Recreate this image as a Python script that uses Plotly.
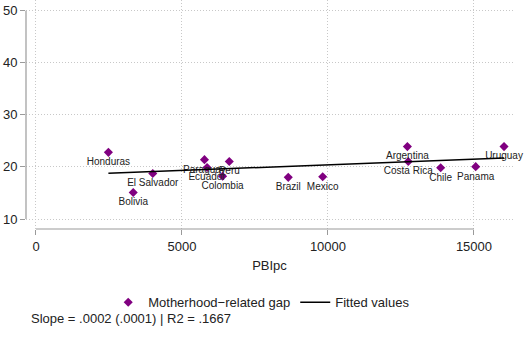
import numpy as np
import plotly.graph_objects as go

# GDP per capita and motherhood-related gap by country
countries = ["Honduras", "Bolivia", "El Salvador", "Paraguay", "Ecuador", "Colombia",
             "Peru", "Brazil", "Mexico", "Argentina", "Costa Rica", "Chile",
             "Panama", "Uruguay"]
pbipc = [2480, 3330, 4000, 5770, 5860, 6390, 6620, 8640, 9820, 12720, 12750,
         13860, 15060, 16030]
gap = [22.8, 15.1, 18.75, 21.4, 19.9, 18.2, 21.05, 18.0, 18.1, 23.9, 21.05,
       19.85, 20.05, 23.9]

x_ticks = [0, 5000, 10000, 15000]
x_tick_labels = ["0", "5000", "10000", "15000"]
y_ticks = [10, 20, 30, 40, 50]
note = "Slope = .0002 (.0001) | R2 = .1667"

# Linear fit across the observed range
slope, intercept = np.polyfit(pbipc, gap, 1)
fit_x = [min(pbipc), max(pbipc)]
fit_y = [intercept + slope * v for v in fit_x]

FONT = "Liberation Sans, Arial, Helvetica, sans-serif"
AXIS_COL = "#9a9a9a"
GRID_COL = "#c8c8c8"

fig = go.Figure()
fig.add_trace(go.Scatter(
    x=pbipc, y=gap, mode="markers+text", text=countries,
    textposition="bottom center", cliponaxis=False,
    textfont=dict(size=10, color="#222222", family=FONT),
    marker=dict(symbol="diamond", size=7, color="#800080"),
    name="Motherhood−related gap",
))
fig.add_trace(go.Scatter(
    x=fit_x, y=fit_y, mode="lines",
    line=dict(color="black", width=1.5),
    name="Fitted values",
))

# Axis lines spanning only the labelled tick range
fig.add_shape(type="line", xref="x", yref="paper", x0=x_ticks[0], x1=x_ticks[-1],
              y0=0, y1=0, line=dict(color=AXIS_COL, width=1.2))
fig.add_shape(type="line", xref="paper", yref="y", x0=0, x1=0,
              y0=y_ticks[0], y1=y_ticks[-1], line=dict(color=AXIS_COL, width=1.2))

fig.add_annotation(text=note, xref="paper", yref="paper", x=0.006, y=-0.392,
                   xanchor="left", yanchor="middle", showarrow=False,
                   font=dict(size=13, color="#222222", family=FONT))

fig.update_layout(
    width=528, height=340,
    margin=dict(l=26, r=15, t=0, b=111),
    paper_bgcolor="white", plot_bgcolor="white",
    font=dict(family=FONT, size=13, color="#222222"),
    showlegend=True,
    legend=dict(orientation="h", x=0.484, xanchor="center", y=-0.32, yanchor="middle",
                font=dict(size=13), itemwidth=30, bgcolor="rgba(0,0,0,0)"),
    xaxis=dict(range=[-342, 16337], tickvals=x_ticks, ticktext=x_tick_labels,
               ticks="outside", ticklen=5,
               tickcolor=AXIS_COL, showline=False, zeroline=False,
               showgrid=True, gridcolor=GRID_COL, griddash="1px,2px", gridwidth=1,
               title=dict(text="PBIpc", standoff=8, font=dict(size=13))),
    yaxis=dict(range=[8.08, 52.05], tickvals=y_ticks, ticks="outside", ticklen=5,
               tickcolor=AXIS_COL, showline=False, zeroline=False,
               showgrid=True, gridcolor=GRID_COL, griddash="1px,2px", gridwidth=1),
)

fig.write_html("out.html")
